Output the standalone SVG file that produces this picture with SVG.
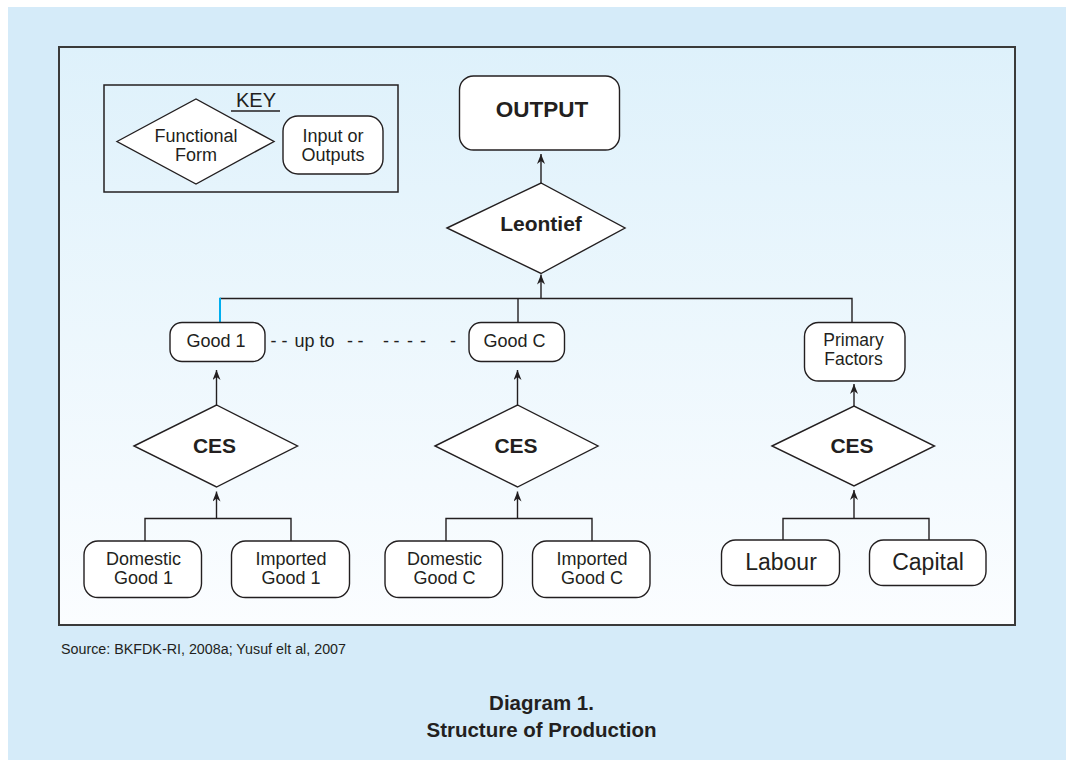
<svg xmlns="http://www.w3.org/2000/svg" width="1066" height="765" viewBox="0 0 1066 765">
<defs>
  <linearGradient id="panelGrad" x1="0" y1="0" x2="0" y2="1">
    <stop offset="0" stop-color="#def1fb"/>
    <stop offset="1" stop-color="#fbfdff"/>
  </linearGradient>
  <marker id="ah" viewBox="0 0 10 8" refX="10" refY="4" markerWidth="10" markerHeight="8" markerUnits="userSpaceOnUse" orient="auto">
    <path d="M0,0 L10,4 L0,8 L3,4 z" fill="#231f20"/>
  </marker>
  <style>
    .t { font-family: "Liberation Sans", Arial, sans-serif; fill: #231f20; }
    .b { font-weight: bold; }
    .box { fill: #ffffff; stroke: #231f20; stroke-width: 1.4; }
    .dia { fill: #ffffff; stroke: #231f20; stroke-width: 1.4; }
    .ln { fill: none; stroke: #231f20; stroke-width: 1.4; }
    .arr { fill: none; stroke: #231f20; stroke-width: 1.4; marker-end: url(#ah); }
  </style>
</defs>

<rect x="0" y="0" width="1066" height="765" fill="#ffffff"/>
<rect x="8" y="7" width="1058" height="753" fill="#d5ebf9"/>
<rect x="59" y="47" width="956" height="578" fill="url(#panelGrad)" stroke="#3a3a3a" stroke-width="2"/>

<g id="key">
  <rect x="104" y="85" width="294" height="107" fill="none" stroke="#231f20" stroke-width="1.5"/>
  <text class="t" x="256" y="107" font-size="20" text-anchor="middle">KEY</text>
  <line x1="231" y1="111" x2="280" y2="111" stroke="#231f20" stroke-width="1.3"/>
  <polygon class="dia" points="117,141.5 196,99 274,141.5 196,184"/>
  <text class="t" x="196" y="142" font-size="18" text-anchor="middle">Functional</text>
  <text class="t" x="196" y="161" font-size="18" text-anchor="middle">Form</text>
  <rect class="box" x="283" y="116" width="100" height="58" rx="15"/>
  <text class="t" x="333" y="142" font-size="18" text-anchor="middle">Input or</text>
  <text class="t" x="333" y="160.5" font-size="18" text-anchor="middle">Outputs</text>
</g>

<g id="connectors">
  <line class="arr" x1="541" y1="183" x2="541" y2="154"/>
  <line class="arr" x1="541" y1="298.5" x2="541" y2="274.5"/>
  <polyline class="ln" points="220,298.5 852,298.5 852,322.5"/>
  <line class="ln" x1="518" y1="298.5" x2="518" y2="322.5"/>
  <line x1="220" y1="297.8" x2="220" y2="322.5" stroke="#00aeef" stroke-width="2"/>
  <line class="arr" x1="216.5" y1="405" x2="216.5" y2="370"/>
  <line class="arr" x1="517.5" y1="405" x2="517.5" y2="370"/>
  <line class="arr" x1="854" y1="406" x2="854" y2="384"/>
  <line class="arr" x1="216.5" y1="518.5" x2="216.5" y2="491.5"/>
  <line class="arr" x1="517.5" y1="518.5" x2="517.5" y2="491.5"/>
  <line class="arr" x1="854" y1="518.5" x2="854" y2="490"/>
  <polyline class="ln" points="145,541 145,518.5 291,518.5 291,541"/>
  <polyline class="ln" points="446,541 446,518.5 592,518.5 592,541"/>
  <polyline class="ln" points="783,540 783,518.5 929,518.5 929,540"/>
</g>

<g id="output">
  <rect class="box" x="459.5" y="76" width="160" height="74" rx="14"/>
  <text class="t b" x="542" y="117" font-size="22.5" text-anchor="middle">OUTPUT</text>
</g>

<g id="leontief">
  <polygon class="dia" points="447,228 541,183 625,228 541,273.5"/>
  <text class="t b" x="541" y="231" font-size="21" text-anchor="middle">Leontief</text>
</g>

<g id="good1">
  <rect class="box" x="170" y="322.5" width="95" height="39" rx="12"/>
  <text class="t" x="216" y="347" font-size="18" text-anchor="middle">Good 1</text>
</g>

<g id="upto">
  <text class="t" y="346.5" font-size="18"><tspan x="270.5">-</tspan><tspan x="281.5">-</tspan><tspan x="294.5">up to</tspan><tspan x="347">-</tspan><tspan x="357.5">-</tspan><tspan x="383">-</tspan><tspan x="393.5">-</tspan><tspan x="407">-</tspan><tspan x="420">-</tspan><tspan x="450">-</tspan></text>
</g>

<g id="goodC">
  <rect class="box" x="469" y="322.5" width="95.5" height="39" rx="12"/>
  <text class="t" x="514.5" y="347" font-size="18" text-anchor="middle">Good C</text>
</g>

<g id="primary">
  <rect class="box" x="804.5" y="322.5" width="100.5" height="58.5" rx="14"/>
  <text class="t" x="853.5" y="346" font-size="17.5" text-anchor="middle">Primary</text>
  <text class="t" x="853.5" y="365" font-size="17.5" text-anchor="middle">Factors</text>
</g>

<g id="ces1">
  <polygon class="dia" points="134,446 216.5,405 297.5,446 216.5,487"/>
  <text class="t b" x="214.5" y="453" font-size="21" text-anchor="middle">CES</text>
</g>

<g id="cesC">
  <polygon class="dia" points="435,446 517.5,405 598,446 517.5,487"/>
  <text class="t b" x="516" y="453" font-size="21" text-anchor="middle">CES</text>
</g>

<g id="cesP">
  <polygon class="dia" points="772,446 854,406 934.5,446 854,486"/>
  <text class="t b" x="852" y="453" font-size="21" text-anchor="middle">CES</text>
</g>

<g id="dom1">
  <rect class="box" x="84" y="541" width="117.5" height="56.5" rx="14"/>
  <text class="t" x="143.5" y="565" font-size="18" text-anchor="middle">Domestic</text>
  <text class="t" x="143.5" y="583.5" font-size="18" text-anchor="middle">Good 1</text>
</g>

<g id="imp1">
  <rect class="box" x="231.5" y="541" width="118" height="56.5" rx="14"/>
  <text class="t" x="291" y="565" font-size="18" text-anchor="middle">Imported</text>
  <text class="t" x="291" y="583.5" font-size="18" text-anchor="middle">Good 1</text>
</g>

<g id="domC">
  <rect class="box" x="385" y="541" width="117.5" height="56.5" rx="14"/>
  <text class="t" x="444.5" y="565" font-size="18" text-anchor="middle">Domestic</text>
  <text class="t" x="444.5" y="583.5" font-size="18" text-anchor="middle">Good C</text>
</g>

<g id="impC">
  <rect class="box" x="532.5" y="541" width="117.5" height="56.5" rx="14"/>
  <text class="t" x="592" y="565" font-size="18" text-anchor="middle">Imported</text>
  <text class="t" x="592" y="583.5" font-size="18" text-anchor="middle">Good C</text>
</g>

<g id="labour">
  <rect class="box" x="721.5" y="540" width="118" height="45.5" rx="14"/>
  <text class="t" x="781" y="569.5" font-size="23" text-anchor="middle">Labour</text>
</g>

<g id="capital">
  <rect class="box" x="869.5" y="540" width="116.5" height="45.5" rx="14"/>
  <text class="t" x="928" y="569.5" font-size="23" text-anchor="middle">Capital</text>
</g>

<text class="t" x="61" y="654" font-size="14" textLength="285" lengthAdjust="spacingAndGlyphs">Source: BKFDK-RI, 2008a; Yusuf elt al, 2007</text>
<text class="t b" x="541.5" y="709.5" font-size="20.5" text-anchor="middle">Diagram 1.</text>
<text class="t b" x="541.5" y="736.5" font-size="20.5" text-anchor="middle">Structure of Production</text>
</svg>
